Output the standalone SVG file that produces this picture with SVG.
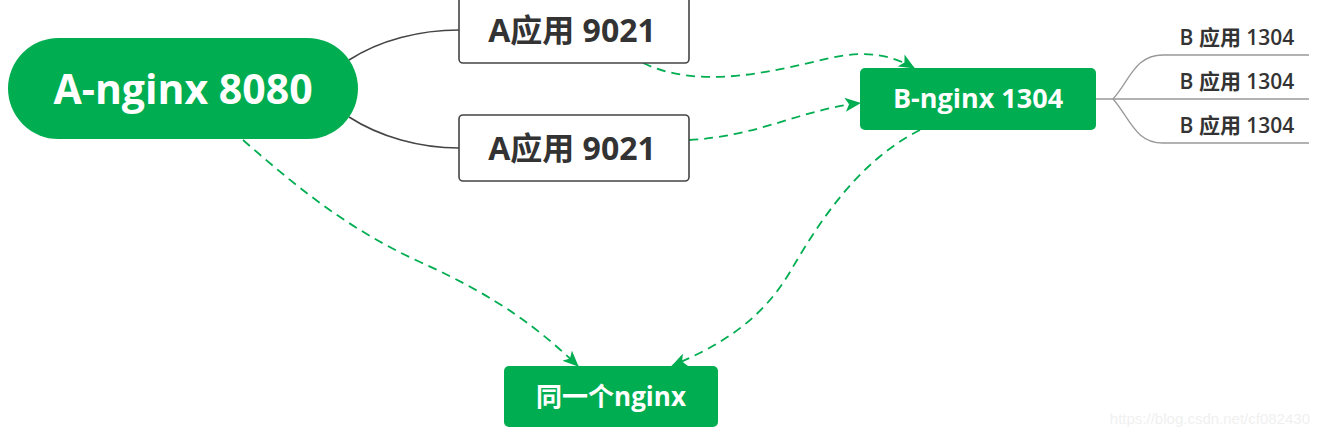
<svg xmlns="http://www.w3.org/2000/svg" width="1320" height="438" viewBox="0 0 1320 438">
<style>
.green{fill:#00ae51}
.wt{fill:#fff;font-family:"Open Sans","Noto Sans CJK SC",sans-serif;font-weight:bold;text-anchor:middle}
.dt{fill:#333;font-family:"Open Sans","Noto Sans CJK SC",sans-serif;font-weight:bold;text-anchor:middle}
.bt{fill:#333;font-family:"Open Sans","Noto Sans CJK SC",sans-serif;font-size:21px;font-weight:600;text-anchor:middle}
.dash{fill:none;stroke:#00ae51;stroke-width:1.8;stroke-dasharray:9,6}
.solid{fill:none;stroke:#444;stroke-width:1.6}
.thin{fill:none;stroke:#999;stroke-width:1.3}
</style>
<defs>
<marker id="arr" viewBox="0 0 16 14" refX="15" refY="7" markerWidth="16" markerHeight="14" markerUnits="userSpaceOnUse" orient="auto">
<path d="M0,0 L16,7 L0,14 L4,7 Z" fill="#00ae51"/>
</marker>
</defs>
<rect width="1320" height="438" fill="#fff"/>
<g id="connectors">
<path class="solid" d="M349,60 C 380,40 420,30 459,30"/>
<path class="solid" d="M349,117 C 380,137 420,148 459,148"/>
<path class="thin" d="M1096,99 H1309"/>
<path class="thin" d="M1113,99 C 1130,80 1135,55 1163,55 H1309"/>
<path class="thin" d="M1113,99 C 1130,118 1135,143 1163,143 H1309"/>
<path class="dash" marker-end="url(#arr)" d="M643,63 C 700,90 770,72 830,58 C 870,49 895,57 914,68"/>
<path class="dash" marker-end="url(#arr)" d="M689,140 C 760,136 800,110 860,103"/>
<path class="dash" marker-end="url(#arr)" d="M243,140 C 300,190 350,230 420,262 C 500,298 540,330 578,366"/>
<path class="dash" marker-end="url(#arr)" d="M920,130 C 860,160 820,220 790,272 C 760,322 720,345 672,366"/>
</g>
<g id="a-nginx">
<rect class="green" x="8" y="38" width="350" height="101" rx="50.5"/>
<text class="wt" x="183" y="104" font-size="41">A-nginx 8080</text>
</g>
<g id="a-app-1">
<rect x="459" y="-4" width="230" height="67" rx="4" fill="#fff" stroke="#444" stroke-width="1.6"/>
<text class="dt" x="572" y="42" font-size="32">A应用 9021</text>
</g>
<g id="a-app-2">
<rect x="459" y="115" width="230" height="66" rx="4" fill="#fff" stroke="#444" stroke-width="1.6"/>
<text class="dt" x="572" y="160" font-size="32">A应用 9021</text>
</g>
<g id="b-nginx">
<rect class="green" x="860" y="68" width="236" height="62" rx="5"/>
<text class="wt" x="978" y="108" font-size="27">B-nginx 1304</text>
</g>
<g id="b-app-1"><text class="bt" x="1237" y="45">B 应用 1304</text></g>
<g id="b-app-2"><text class="bt" x="1237" y="89">B 应用 1304</text></g>
<g id="b-app-3"><text class="bt" x="1237" y="133">B 应用 1304</text></g>
<g id="same-nginx">
<rect class="green" x="504" y="366" width="214" height="61" rx="5"/>
<text class="wt" x="611" y="406" font-size="26">同一个nginx</text>
</g>
<text x="1310" y="424" font-family="Liberation Sans,sans-serif" font-size="15" fill="#f0f0f0" text-anchor="end">https://blog.csdn.net/cf082430</text>
</svg>
